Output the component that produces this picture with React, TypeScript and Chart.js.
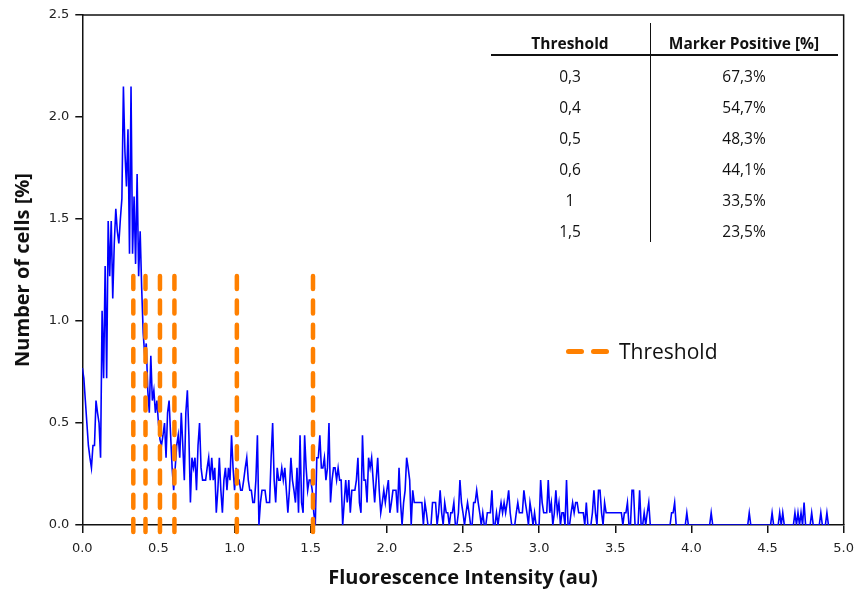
import React, { useEffect, useRef } from 'react';
import { Chart, registerables } from 'chart.js';

Chart.register(...registerables);

// Histogram bin width along the fluorescence axis (au)
const BIN_WIDTH = 0.01;

// Number of cells [%] per bin (bins start at 0.00 au)
const cellPercent: number[] = [
  0.77, 0.72, 0.61, 0.50, 0.39, 0.33, 0.28, 0.39, 0.39, 0.61,
  0.55, 0.50, 0.33, 1.05, 0.72, 1.27, 0.72, 1.49, 1.22, 1.49,
  1.11, 1.38, 1.55, 1.44, 1.38, 1.50, 1.60, 2.15, 1.83, 1.66,
  1.94, 1.33, 2.15, 1.33, 1.61, 1.28, 1.72, 1.22, 1.44, 1.16,
  0.94, 0.83, 0.89, 0.66, 0.55, 0.83, 0.61, 0.66, 0.55, 0.61,
  0.50, 0.42, 0.39, 0.44, 0.50, 0.33, 0.55, 0.61, 0.44, 0.28,
  0.17, 0.28, 0.39, 0.44, 0.33, 0.55, 0.39, 0.22, 0.55, 0.66,
  0.44, 0.11, 0.33, 0.28, 0.33, 0.17, 0.39, 0.50, 0.28, 0.22,
  0.22, 0.22, 0.28, 0.33, 0.22, 0.33, 0.22, 0.28, 0.06, 0.17,
  0.33, 0.17, 0.06, 0.22, 0.28, 0.17, 0.28, 0.22, 0.44, 0.28,
  0.17, 0.28, 0.22, 0.22, 0.17, 0.17, 0.22, 0.28, 0.33, 0.22,
  0.17, 0.17, 0.11, 0.11, 0.22, 0.44, 0.00, 0.11, 0.17, 0.17,
  0.17, 0.11, 0.11, 0.11, 0.33, 0.50, 0.22, 0.11, 0.28, 0.22,
  0.22, 0.28, 0.22, 0.28, 0.17, 0.06, 0.17, 0.33, 0.22, 0.17,
  0.11, 0.28, 0.06, 0.44, 0.11, 0.06, 0.44, 0.28, 0.17, 0.22,
  0.22, 0.17, 0.06, 0.00, 0.33, 0.33, 0.44, 0.28, 0.28, 0.33,
  0.22, 0.28, 0.50, 0.11, 0.22, 0.28, 0.28, 0.22, 0.28, 0.22,
  0.22, 0.00, 0.11, 0.22, 0.11, 0.22, 0.06, 0.17, 0.17, 0.17,
  0.22, 0.33, 0.11, 0.06, 0.44, 0.22, 0.22, 0.11, 0.33, 0.28,
  0.33, 0.22, 0.11, 0.22, 0.33, 0.17, 0.06, 0.11, 0.17, 0.11,
  0.17, 0.22, 0.06, 0.11, 0.17, 0.17, 0.17, 0.06, 0.28, 0.11,
  0.00, 0.11, 0.17, 0.33, 0.28, 0.22, 0.00, 0.17, 0.11, 0.11,
  0.11, 0.11, 0.11, 0.11, 0.00, 0.11, 0.06, 0.00, 0.00, 0.00,
  0.11, 0.11, 0.11, 0.00, 0.06, 0.17, 0.06, 0.00, 0.11, 0.06,
  0.06, 0.00, 0.06, 0.06, 0.11, 0.00, 0.00, 0.06, 0.22, 0.11,
  0.06, 0.00, 0.06, 0.11, 0.06, 0.00, 0.00, 0.11, 0.11, 0.17,
  0.11, 0.06, 0.00, 0.06, 0.00, 0.00, 0.06, 0.06, 0.06, 0.17,
  0.00, 0.00, 0.06, 0.00, 0.06, 0.11, 0.06, 0.11, 0.06, 0.11,
  0.17, 0.06, 0.00, 0.00, 0.00, 0.06, 0.11, 0.06, 0.06, 0.06,
  0.17, 0.11, 0.06, 0.00, 0.11, 0.06, 0.00, 0.06, 0.00, 0.00,
  0.00, 0.22, 0.11, 0.06, 0.06, 0.06, 0.22, 0.06, 0.11, 0.00,
  0.06, 0.17, 0.06, 0.11, 0.00, 0.06, 0.06, 0.00, 0.22, 0.00,
  0.00, 0.06, 0.11, 0.06, 0.11, 0.11, 0.06, 0.06, 0.06, 0.06,
  0.00, 0.11, 0.00, 0.00, 0.00, 0.06, 0.17, 0.06, 0.00, 0.17,
  0.17, 0.06, 0.00, 0.11, 0.06, 0.06, 0.06, 0.06, 0.06, 0.06,
  0.06, 0.06, 0.06, 0.06, 0.06, 0.00, 0.06, 0.06, 0.11, 0.00,
  0.00, 0.17, 0.17, 0.00, 0.00, 0.00, 0.17, 0.00, 0.00, 0.06,
  0.00, 0.06, 0.11, 0.00, 0.00, 0.00, 0.00, 0.00, 0.00, 0.00,
  0.00, 0.00, 0.00, 0.00, 0.00, 0.00, 0.00, 0.06, 0.06, 0.11,
  0.00, 0.00, 0.00, 0.00, 0.00, 0.00, 0.00, 0.06, 0.00, 0.00,
  0.00, 0.00, 0.00, 0.00, 0.00, 0.00, 0.00, 0.00, 0.00, 0.00,
  0.00, 0.00, 0.00, 0.06, 0.00, 0.00, 0.00, 0.00, 0.00, 0.00,
  0.00, 0.00, 0.00, 0.00, 0.00, 0.00, 0.00, 0.00, 0.00, 0.00,
  0.00, 0.00, 0.00, 0.00, 0.00, 0.00, 0.00, 0.00, 0.06, 0.00,
  0.00, 0.00, 0.00, 0.00, 0.00, 0.00, 0.00, 0.00, 0.00, 0.00,
  0.00, 0.00, 0.00, 0.06, 0.00, 0.00, 0.00, 0.00, 0.06, 0.00,
  0.06, 0.00, 0.00, 0.00, 0.00, 0.00, 0.00, 0.00, 0.06, 0.00,
  0.06, 0.00, 0.06, 0.00, 0.11, 0.00, 0.00, 0.00, 0.00, 0.06,
  0.00, 0.00, 0.00, 0.00, 0.00, 0.06, 0.00, 0.00, 0.00, 0.06,
  0.00,
];

// Dashed threshold markers (x positions as drawn, au) and their vertical extent
const thresholdPositions = [0.335, 0.415, 0.51, 0.605, 1.015, 1.515];
const thresholdTop = 1.22;
const thresholdBottom = -0.06;

// Inset table
const tableThresholds = ['0,3', '0,4', '0,5', '0,6', '1', '1,5'];
const tableMarkerPositive = ['67,3%', '54,7%', '48,3%', '44,1%', '33,5%', '23,5%'];

const BLUE = '#0000ff';
const ORANGE = '#ff8000';
const UI_FONT = '"Open Sans", Lato, sans-serif';

const framePlugin = {
  id: 'frame',
  beforeDatasetsDraw(chart: any) {
    const { ctx, chartArea } = chart;
    ctx.save();
    ctx.strokeStyle = '#111';
    ctx.lineWidth = 1.5;
    ctx.beginPath();
    ctx.moveTo(chartArea.left, chartArea.top);
    ctx.lineTo(chartArea.right, chartArea.top);
    ctx.lineTo(chartArea.right, chartArea.bottom);
    ctx.stroke();
    ctx.restore();
  },
};

export default function App() {
  const canvasRef = useRef<HTMLCanvasElement | null>(null);

  useEffect(() => {
    const canvas = canvasRef.current;
    if (!canvas) return;

    const histogram = cellPercent.map((y, i) => ({ x: +(i * BIN_WIDTH).toFixed(2), y }));

    const thresholdSets = thresholdPositions.map((t) => ({
      label: 'Threshold',
      data: [
        { x: t, y: thresholdTop },
        { x: t, y: thresholdBottom },
      ],
      borderColor: ORANGE,
      backgroundColor: ORANGE,
      borderWidth: 4.5,
      borderDash: [13, 11.3],
      borderCapStyle: 'round',
      pointRadius: 0,
      clip: false,
      order: 0,
    }));

    const chart = new Chart(canvas, {
      type: 'line',
      data: {
        datasets: [
          ...thresholdSets,
          {
            label: 'Cells',
            data: histogram,
            borderColor: BLUE,
            backgroundColor: BLUE,
            borderWidth: 1.6,
            pointRadius: 0,
            tension: 0,
            order: 1,
          },
        ] as any,
      },
      options: {
        animation: false,
        responsive: false,
        devicePixelRatio: 1,
        layout: { padding: { left: 0, right: 13.7, top: 15, bottom: 0 } },
        plugins: {
          legend: { display: false },
          tooltip: { enabled: false },
        },
        scales: {
          x: {
            type: 'linear',
            min: 0,
            max: 5,
            afterFit: (scale: any) => {
              scale.height = 66;
            },
            ticks: {
              stepSize: 0.5,
              padding: 8,
              color: '#222',
              font: { family: 'DejaVu Sans', size: 13 },
              callback: (v: any) => Number(v).toFixed(1),
            },
            grid: { drawOnChartArea: false, drawTicks: true, tickLength: 8, color: '#111', lineWidth: 1.5 },
            border: { display: true, color: '#111', width: 1.5 },
            title: {
              display: true,
              text: 'Fluorescence Intensity (au)',
              color: '#111',
              font: { family: 'Open Sans', size: 20, weight: 'bold' },
              padding: { top: 0, bottom: 1 },
            },
          },
          y: {
            type: 'linear',
            min: 0,
            max: 2.5,
            afterFit: (scale: any) => {
              scale.width = 82.3;
            },
            ticks: {
              stepSize: 0.5,
              padding: 6,
              color: '#222',
              font: { family: 'DejaVu Sans', size: 13 },
              callback: (v: any) => Number(v).toFixed(1),
            },
            grid: { drawOnChartArea: false, drawTicks: true, tickLength: 7, color: '#111', lineWidth: 1.5 },
            border: { display: true, color: '#111', width: 1.5 },
            title: {
              display: true,
              text: 'Number of cells [%]',
              color: '#111',
              font: { family: 'Open Sans', size: 20, weight: 'bold' },
              padding: { top: 11, bottom: 0 },
            },
          },
        },
      } as any,
      plugins: [framePlugin],
    });

    return () => chart.destroy();
  }, []);

  const rowTop = 75.5;
  const rowStep = 31.1;
  const col1 = 570;
  const col2 = 744;
  const cellStyle = (cx: number, cy: number, bold: boolean, size: number): React.CSSProperties => ({
    position: 'absolute',
    left: cx - 120,
    width: 240,
    top: cy - 12,
    height: 24,
    lineHeight: '24px',
    textAlign: 'center',
    fontFamily: UI_FONT,
    fontSize: size,
    fontWeight: bold ? 700 : 400,
    color: '#111',
    whiteSpace: 'nowrap',
  });

  return (
    <div style={{ position: 'fixed', left: 0, top: 0, width: 862, height: 591, background: '#fff' }}>
      <canvas ref={canvasRef} width={862} height={591} style={{ position: 'absolute', left: 0, top: 0 }} />
      {/* inset table */}
      <div style={cellStyle(col1, 43, true, 15.5)}>Threshold</div>
      <div style={cellStyle(col2, 43, true, 15.5)}>Marker Positive [%]</div>
      <div style={{ position: 'absolute', left: 491, top: 53.5, width: 347, height: 2, background: '#111' }} />
      <div style={{ position: 'absolute', left: 650, top: 23, width: 1.3, height: 219, background: '#111' }} />
      {tableThresholds.map((t, k) => (
        <div key={'t' + k} style={cellStyle(col1, rowTop + k * rowStep, false, 15.5)}>{t}</div>
      ))}
      {tableMarkerPositive.map((m, k) => (
        <div key={'m' + k} style={cellStyle(col2, rowTop + k * rowStep, false, 15.5)}>{m}</div>
      ))}
      {/* legend */}
      <div style={{ position: 'absolute', left: 566, top: 349, width: 18, height: 5, borderRadius: 3, background: ORANGE }} />
      <div style={{ position: 'absolute', left: 591, top: 349, width: 18, height: 5, borderRadius: 3, background: ORANGE }} />
      <div
        style={{
          position: 'absolute',
          left: 619,
          top: 337,
          height: 28,
          lineHeight: '28px',
          fontFamily: UI_FONT,
          fontSize: 21,
          color: '#111',
          whiteSpace: 'nowrap',
        }}
      >
        Threshold
      </div>
    </div>
  );
}
